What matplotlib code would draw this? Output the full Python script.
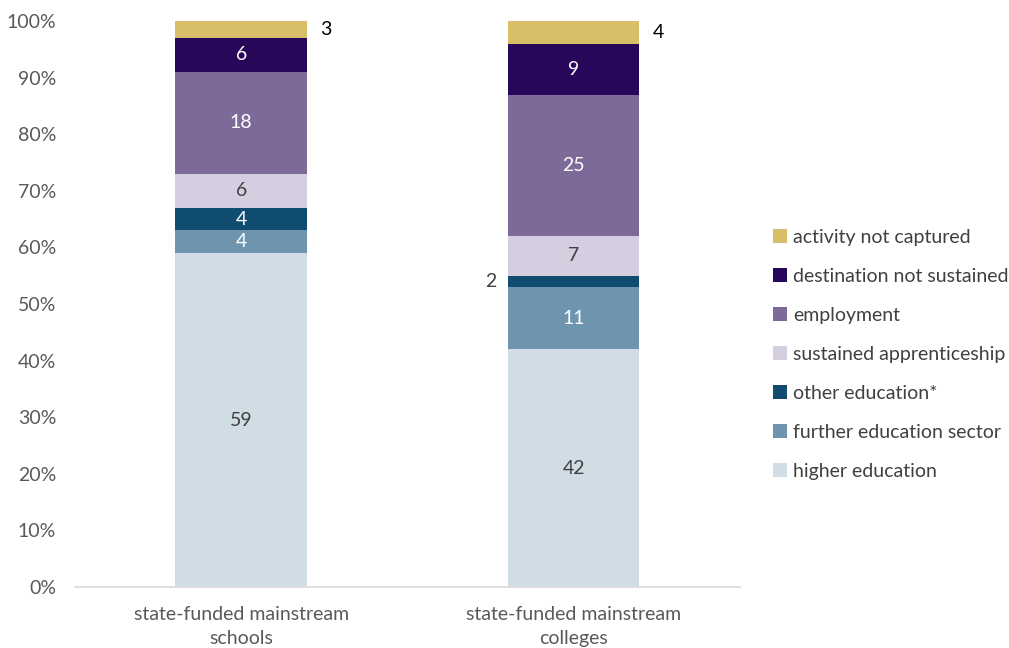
import matplotlib
matplotlib.use("Agg")
import matplotlib.pyplot as plt
from matplotlib.patches import Patch
import numpy as np

plt.rcParams['font.family'] = ['Lato', 'DejaVu Sans']

categories = ["state-funded mainstream\nschools", "state-funded mainstream\ncolleges"]
series_names = [
    "higher education",
    "further education sector",
    "other education*",
    "sustained apprenticeship",
    "employment",
    "destination not sustained",
    "activity not captured",
]
higher_education = [59, 42]
further_education = [4, 11]
other_education = [4, 2]
apprenticeship = [6, 7]
employment = [18, 25]
not_sustained = [6, 9]
not_captured = [3, 4]

series_values = [higher_education, further_education, other_education,
                 apprenticeship, employment, not_sustained, not_captured]
colors = ["#D0DDE5", "#6F95AE", "#0F4C70", "#D5CEE0", "#7D6A98", "#27075A", "#D9BE6A"]
label_colors = ["#404040", "white", "white", "#404040", "white", "white", "#000000"]

FS = 14

fig = plt.figure(figsize=(10.09, 6.48), dpi=100)
ax = fig.add_axes([0.0743, 0.0941, 0.659, 0.8735])

x = np.arange(len(categories))
width = 0.396
bottom = np.zeros(len(categories))
for name, vals, col, lc in zip(series_names, series_values, colors, label_colors):
    vals = np.array(vals, dtype=float)
    ax.bar(x, vals, width, bottom=bottom, color=col, label=name, zorder=2)
    for i, v in enumerate(vals):
        yc = bottom[i] + v / 2
        if name == "activity not captured":
            ax.text(x[i] + width / 2 + 0.04, yc, f"{v:g}", ha="left", va="center",
                    fontsize=FS, color="#000000")
        elif name == "other education*" and v < 3:
            ax.text(x[i] - width / 2 - 0.035, yc, f"{v:g}", ha="right", va="center",
                    fontsize=FS, color="#404040")
        else:
            ax.text(x[i], yc, f"{v:g}", ha="center", va="center",
                    fontsize=FS, color=lc)
    bottom += vals

ax.set_xlim(-0.5, 1.5)
ax.set_ylim(0, 100)
ax.set_yticks(np.arange(0, 101, 10))
ax.set_yticklabels([f"{t}%" for t in range(0, 101, 10)])
ax.set_xticks(x)
ax.set_xticklabels(categories, linespacing=1.45)
ax.tick_params(axis="both", length=0, labelsize=FS, colors="#595959")
ax.tick_params(axis="y", pad=13.5)
ax.tick_params(axis="x", pad=14)
for s in ["top", "right", "left"]:
    ax.spines[s].set_visible(False)
ax.spines["bottom"].set_color("#D9D9D9")
ax.spines["bottom"].set_linewidth(1.2)

handles = [Patch(facecolor=c, label=n) for n, c in zip(series_names, colors)][::-1]
leg = fig.legend(handles=handles, loc="upper left", bbox_to_anchor=(0.766, 0.647),
                 frameon=False, fontsize=FS, handlelength=0.7, handleheight=0.7,
                 handletextpad=0.35, labelspacing=1.13, borderpad=0, borderaxespad=0)
for t in leg.get_texts():
    t.set_color("#404040")

fig.savefig("out.png", dpi=100)
